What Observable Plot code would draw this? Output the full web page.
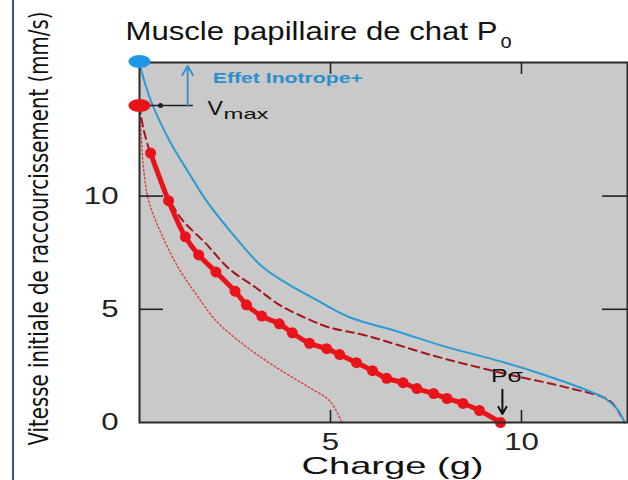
<!DOCTYPE html>
<html><head><meta charset="utf-8">
<script src="https://cdn.jsdelivr.net/npm/d3@7"></script>
<script src="https://cdn.jsdelivr.net/npm/@observablehq/plot@0.6"></script>
<style>
body{margin:0;background:#fff;}
#wrap{position:relative;width:628px;height:480px;overflow:hidden;}
#bar{position:absolute;left:12px;top:0;width:2px;height:480px;background:#3b4f9e;}
</style></head><body><div id="wrap"><div id="bar"></div></div>
<script>
// ---- Data ----
const titleText = "Muscle papillaire de chat P";
const titleSub = "o";
const xLabel = "Charge (g)";
const yLabel = "Vitesse initiale de raccourcissement (mm/s)";
const xTickValues = [5, 10];
const yTickValues = [0, 5, 10];
const yTickMarks = [5, 10];

// Inotropic (blue) curve
const inoCharge  = [0, 0.3, 0.8, 1.3, 1.75, 2.5, 3.2, 3.9, 4.6, 5.5, 6.8, 8.0, 9.45, 10.6, 11.6, 12.2, 12.5, 12.7];
const inoVitesse = [15.85, 14.2, 12.4, 11.0, 9.8, 8.2, 6.9, 6.1, 5.45, 4.65, 4.0, 3.35, 2.7, 2.1, 1.5, 1.05, 0.6, 0];

// Dashed (dark red) curve
const dashCharge  = [0, 0.1, 0.3, 0.58, 1.05, 1.74, 2.34, 3.05, 3.66, 4.37, 4.97, 5.95, 7.7, 9.45, 11.2, 12.3, 12.6];
const dashVitesse = [14.0, 13.0, 11.8, 10.6, 9.1, 7.9, 6.8, 5.95, 5.2, 4.6, 4.2, 3.83, 2.95, 2.2, 1.54, 0.97, 0.3];

// Experimental points (thick red with dots)
const expCharge  = [0.29, 0.76, 1.2, 1.55, 2.0, 2.5, 2.8, 3.2, 3.66, 4.0, 4.45, 4.9, 5.24, 5.68, 6.1, 6.47, 6.9, 7.26, 7.7, 8.05, 8.47, 8.9, 9.45];
const expVitesse = [11.9, 9.8, 8.2, 7.4, 6.65, 5.8, 5.2, 4.7, 4.36, 3.96, 3.5, 3.26, 3.0, 2.64, 2.29, 1.95, 1.76, 1.5, 1.28, 1.06, 0.84, 0.53, 0];

// Dotted (light red) curve
const dotCharge  = [0, 0.05, 0.12, 0.24, 0.58, 1.03, 1.47, 2.0, 2.6, 3.2, 3.84, 4.45, 4.97, 5.24, 5.3];
const dotVitesse = [14.0, 12.5, 11.0, 9.8, 8.3, 6.8, 5.7, 4.5, 3.6, 2.86, 2.16, 1.54, 0.97, 0.22, 0];

// Vmax points
const vmaxCharge = [0, 0];
const vmaxVitesse = [15.95, 14.0];
const vmaxColors = ["#2196e6", "#e8141a"];

// Annotations
const inoArrow = {x: 1.26, y1: 14.0, y2: 15.75};
const vmaxRule = {x1: 0, x2: 1.41, y: 14.0};
const vmaxTick = {x: 0.55, y: 14.0};
const inoLabel = {x: 1.92, y: 15.2, text: "Effet Inotrope+"};
const vLabel = {x: 1.78, y: 13.87, text: "V"};
const maxLabel = {x: 2.2, y: 13.62, text: "max"};
const poLabel = {x: 9.62, y: 2.07, text: "Pσ"};
const poArrow = {x: 9.5, y1: 1.45, y2: 0.38};

const zip = (xs, ys) => xs.map((x, i) => ({x, y: ys[i]}));
const ino = zip(inoCharge, inoVitesse);
const dash = zip(dashCharge, dashVitesse);
const exp = zip(expCharge, expVitesse);
const dotted = zip(dotCharge, dotVitesse);
const vmax = zip(vmaxCharge, vmaxVitesse).map((d, i) => ({...d, c: vmaxColors[i]}));

const ellipse = {draw(ctx) {
  const rx = 11, ry = 6.5, k = 0.5523;
  ctx.moveTo(rx, 0);
  ctx.bezierCurveTo(rx, k*ry, k*rx, ry, 0, ry);
  ctx.bezierCurveTo(-k*rx, ry, -rx, k*ry, -rx, 0);
  ctx.bezierCurveTo(-rx, -k*ry, -k*rx, -ry, 0, -ry);
  ctx.bezierCurveTo(k*rx, -ry, rx, -k*ry, rx, 0);
  ctx.closePath();
}};

const W = 628, H = 480, ML = 139, MR = 1, MT = 62, MB = 58;
const FW = W - ML - MR, FH = H - MT - MB;
const font = "Liberation Sans, Arial, Helvetica, sans-serif";
const narrow = "Liberation Sans Narrow, DejaVu Sans Condensed, Liberation Sans, sans-serif";

const chart = Plot.plot({
  width: W, height: H,
  marginLeft: ML, marginRight: MR, marginTop: MT, marginBottom: MB,
  style: {fontFamily: font, background: "transparent", color: "#222"},
  x: {domain: [0, FW / 38.2], axis: null},
  y: {domain: [0, FH / 22.64], axis: null},
  marks: [
    Plot.frame({fill: "#c9c9c9"}),
    Plot.line(dotted, {x: "x", y: "y", stroke: "#e23a3a", strokeWidth: 1.4, strokeDasharray: "1.5,2.5", curve: "catmull-rom"}),
    Plot.line(dash, {x: "x", y: "y", stroke: "#a8141c", strokeWidth: 2, strokeDasharray: "8,5", curve: "catmull-rom"}),
    Plot.line(ino, {x: "x", y: "y", stroke: "#2a9bd4", strokeWidth: 2, curve: "catmull-rom"}),
    Plot.line(exp, {x: "x", y: "y", stroke: "#e8141a", strokeWidth: 5, curve: "catmull-rom"}),
    Plot.dot(exp, {x: "x", y: "y", r: 5.5, fill: "#e8141a"}),
    Plot.frame({stroke: "#2a2a2a", strokeWidth: 2}),
    // inward ticks
    Plot.tickY(yTickMarks, {y: d => d, insetRight: FW - 24, stroke: "#222", strokeWidth: 1.6}),
    Plot.tickY(yTickMarks, {y: d => d, insetLeft: FW - 25, stroke: "#222", strokeWidth: 1.6}),
    Plot.tickX(xTickValues, {x: d => d, insetTop: FH - 12, stroke: "#222", strokeWidth: 1.6}),
    Plot.tickX(xTickValues, {x: d => d, insetBottom: FH - 12, stroke: "#222", strokeWidth: 1.6}),
    Plot.axisX(xTickValues, {tickSize: 0, tickPadding: 10, fontSize: 24}),
    Plot.axisY(yTickValues, {tickSize: 0, tickPadding: 21, fontSize: 24}),
    // annotations
    Plot.ruleY([vmaxRule], {x1: "x1", x2: "x2", y: "y", stroke: "#222", strokeWidth: 1.6}),
    Plot.dot([vmaxTick], {x: "x", y: "y", r: 2.5, fill: "#222"}),
    Plot.arrow([inoArrow], {x: "x", y1: "y1", y2: "y2", stroke: "#2a8fd0", strokeWidth: 1.8, headLength: 9}),
    Plot.arrow([poArrow], {x: "x", y1: "y1", y2: "y2", stroke: "#111", strokeWidth: 2, headLength: 8}),
    Plot.dot(vmax, {x: "x", y: "y", fill: "c", symbol: ellipse, r: 6}),
    Plot.text([inoLabel], {x: "x", y: "y", text: "text", textAnchor: "start", fill: "#2a8fd0", fontWeight: "bold", fontSize: 15}),
    Plot.text([vLabel], {x: "x", y: "y", text: "text", textAnchor: "start", fill: "#111", fontSize: 21}),
    Plot.text([maxLabel], {x: "x", y: "y", text: "text", textAnchor: "start", fill: "#111", fontSize: 15}),
    Plot.text([poLabel], {x: "x", y: "y", text: "text", fill: "#111", fontSize: 19}),
    Plot.text([titleText], {frameAnchor: "top-left", textAnchor: "start", lineAnchor: "middle", dx: -14, dy: -31, fontSize: 25, fill: "#111"}),
    Plot.text([titleSub], {frameAnchor: "top-left", textAnchor: "start", lineAnchor: "middle", dx: 361, dy: -21, fontSize: 20, fill: "#111"}),
    Plot.text([xLabel], {frameAnchor: "bottom", textAnchor: "middle", lineAnchor: "middle", dx: 9, dy: 44, fontSize: 24, fill: "#111"}),
    Plot.text([yLabel], {frameAnchor: "left", textAnchor: "middle", lineAnchor: "middle", rotate: -90, dx: -100, dy: -14, fontSize: 26, fontFamily: narrow, fill: "#111"})
  ]
});
document.getElementById("wrap").appendChild(chart);

// horizontal stretch of the reference's lettering (by text content)
const targets = new Map([
  [titleText, 372], [xLabel, 182], [yLabel, 434],
  [inoLabel.text, 150], [maxLabel.text, 45], [poLabel.text, 32]
]);
const tickLabels = new Set(["0", "5", "10"]);
d3.select(chart).selectAll("text").each(function() {
  const t = this.textContent;
  let L = null;
  if (targets.has(t)) L = targets.get(t);
  else if (tickLabels.has(t)) L = this.getComputedTextLength() * 1.3;
  else if (t === vLabel.text) L = this.getComputedTextLength() * 1.1;
  if (L != null) {
    this.setAttribute("textLength", L);
    this.setAttribute("lengthAdjust", "spacingAndGlyphs");
  }
});
</script></body></html>
